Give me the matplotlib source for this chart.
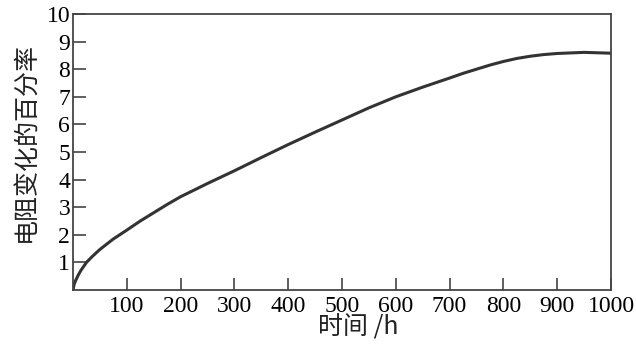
import matplotlib
matplotlib.use("Agg")
import matplotlib.pyplot as plt

# 数据
hours = [0, 2, 5, 10, 15, 25, 35, 50, 75, 100, 125, 150, 175, 200, 250, 300,
         350, 400, 450, 500, 550, 600, 650, 700, 725, 750, 775, 800, 825, 850,
         875, 900, 950, 1000]
change = [0, 0.2, 0.35, 0.55, 0.72, 1.0, 1.2, 1.47, 1.85, 2.17, 2.5, 2.8, 3.1,
          3.38, 3.86, 4.32, 4.8, 5.27, 5.72, 6.16, 6.6, 7.0, 7.35, 7.68, 7.85,
          8.0, 8.15, 8.28, 8.39, 8.47, 8.53, 8.57, 8.61, 8.58]
xticks = [100, 200, 300, 400, 500, 600, 700, 800, 900, 1000]
yticks = [1, 2, 3, 4, 5, 6, 7, 8, 9, 10]

cjk = ['Noto Sans CJK SC', 'DejaVu Sans']
serif = ['Liberation Serif', 'DejaVu Serif']

fig = plt.figure(figsize=(6.36, 3.5), dpi=100)
ax = fig.add_axes([0.1148, 0.1714, 0.8459, 0.7886])

ax.plot(hours, change, color='#333333', lw=2.2)

ax.set_xlim(0, 1000)
ax.set_ylim(0, 10)
ax.set_xticks(xticks)
ax.set_yticks(yticks)
ax.set_xticklabels([str(v) for v in xticks], fontfamily=serif, fontsize=17)
ax.set_yticklabels([str(v) for v in yticks], fontfamily=serif, fontsize=17)
ax.tick_params(axis='both', direction='in', length=9, width=1.2, color='#444444')
ax.tick_params(axis='x', pad=4)
ax.tick_params(axis='y', pad=2)
for s in ax.spines.values():
    s.set_linewidth(1.3)
    s.set_color('#444444')

fig.text(0.04, 0.594, '电阻变化的百分率', rotation=90, ha='center', va='center',
         fontsize=18, family=cjk, fontweight='medium', color='#222222')
fig.text(0.563, 0.063, '时间 /h', ha='center', va='center',
         fontsize=18, family=cjk, color='#222222')

fig.savefig('out.png', dpi=100)
